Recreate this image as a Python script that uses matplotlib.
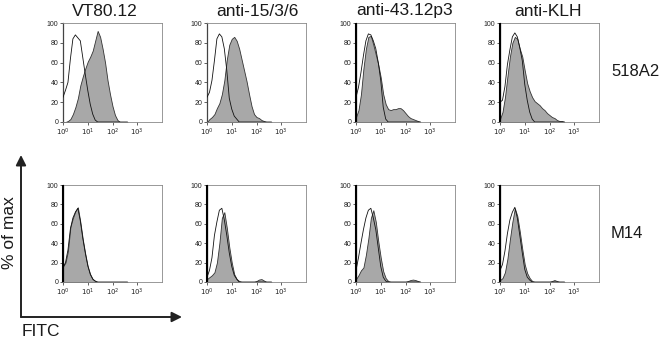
import numpy as np
import matplotlib
matplotlib.use("Agg")
import matplotlib.pyplot as plt
from matplotlib.patches import FancyArrowPatch

plt.rcParams['font.family'] = ['Liberation Sans', 'DejaVu Sans']

# --- data ---
# channel positions in decades of FITC intensity (10**x)
LOG_X = [0.0, 0.1, 0.2, 0.3, 0.4, 0.5, 0.6, 0.7, 0.8, 0.9, 1.0, 1.1, 1.2,
         1.3, 1.4, 1.5, 1.6, 1.7, 1.8, 1.9, 2.0, 2.1, 2.2, 2.3, 2.4, 2.5, 2.6]

antibodies = ["VT80.12", "anti-15/3/6", "anti-43.12p3", "anti-KLH"]
cell_lines = ["518A2", "M14"]

# stained (filled) histograms, % of max
filled_518A2 = [
    [0, 0, 1, 3, 8, 15, 24, 37, 46, 54, 61, 66, 72, 82, 92, 86, 74, 60, 42, 28, 16, 7, 2, 0, 0, 0, 0],
    [0, 3, 5, 8, 14, 19, 28, 42, 63, 78, 84, 86, 82, 74, 63, 52, 41, 28, 16, 8, 5, 4, 2, 1, 0, 0, 0],
    [5, 12, 28, 54, 74, 86, 87, 78, 68, 58, 45, 28, 18, 13, 12, 13, 13, 14, 14, 12, 9, 6, 4, 3, 2, 1, 0],
    [3, 10, 25, 46, 66, 80, 86, 84, 74, 66, 52, 39, 31, 25, 21, 19, 17, 14, 12, 9, 7, 5, 4, 2, 1, 1, 0],
]
filled_M14 = [
    [16, 20, 32, 57, 66, 73, 77, 62, 44, 29, 16, 8, 3, 1, 0, 0, 0, 0, 0, 0, 0, 0, 0, 0, 0, 0, 0],
    [3, 5, 7, 10, 20, 40, 66, 72, 56, 36, 20, 8, 3, 1, 0, 0, 0, 0, 0, 0, 1, 2.5, 3, 1.5, 0, 0, 0],
    [3, 7, 12, 15, 28, 45, 66, 74, 62, 42, 25, 11, 4, 1, 0, 0, 0, 0, 0, 0, 0, 1, 2, 2.5, 2, 1, 0],
    [2, 4, 10, 24, 44, 62, 76, 68, 52, 34, 18, 9, 4, 1, 0, 0, 0, 0, 0, 0, 0, 1, 2, 1, 0, 0, 0],
]
# isotype control (open) histograms
open_518A2 = [
    [25, 32, 40, 64, 84, 88, 85, 82, 65, 48, 32, 18, 8, 2, 0, 0, 0, 0, 0, 0, 0, 0, 0, 0, 0, 0, 0],
    [25, 30, 42, 62, 84, 89, 86, 74, 52, 24, 13, 6, 3, 0, 0, 0, 0, 0, 0, 0, 0, 0, 0, 0, 0, 0, 0],
    [25, 35, 50, 67, 82, 89, 88, 82, 74, 60, 42, 15, 3, 0, 0, 0, 0, 0, 0, 0, 0, 0, 0, 0, 0, 0, 0],
    [20, 22, 36, 58, 73, 86, 90, 86, 75, 62, 38, 22, 10, 3, 0, 0, 0, 0, 0, 0, 0, 0, 0, 0, 0, 0, 0],
]
open_M14 = [
    [15, 20, 33, 55, 66, 72, 76, 63, 45, 30, 17, 8, 3, 1, 0, 0, 0, 0, 0, 0, 0, 0, 0, 0, 0, 0, 0],
    [5, 12, 25, 48, 62, 74, 76, 64, 48, 30, 16, 7, 3, 0, 0, 0, 0, 0, 0, 0, 0, 0, 0, 0, 0, 0, 0],
    [12, 25, 40, 54, 66, 74, 76, 66, 54, 35, 16, 5, 1, 0, 0, 0, 0, 0, 0, 0, 0, 0, 0, 0, 0, 0, 0],
    [12, 18, 32, 50, 64, 72, 77, 66, 48, 30, 13, 5, 2, 0, 0, 0, 0, 0, 0, 0, 0, 0, 0, 0, 0, 0, 0],
]
# pile-up in the first channel (% of max)
spike_518A2 = [0, 0, 100, 100]
spike_M14 = [100, 100, 100, 100]

W, H = 661, 340
fig = plt.figure(figsize=(W / 100, H / 100), dpi=100)

def px_axes(left, top, width, height):
    return fig.add_axes([left / W, (H - top - height) / H, width / W, height / H])

lefts = [63, 207, 356, 500]
rows = [(23, 99, filled_518A2, open_518A2, spike_518A2),
        (185, 97, filled_M14, open_M14, spike_M14)]
x = 10 ** np.array(LOG_X)

for top, height, filled, opened, spikes in rows:
    for i, left in enumerate(lefts):
        ax = px_axes(left, top, 99, height)
        ax.set_xscale('log')
        ax.fill_between(x, filled[i], color='#a8a8a8', edgecolor='#333333', lw=0.6, zorder=2)
        ax.plot(x, opened[i], color='#111111', lw=0.6, zorder=3)
        if spikes[i]:
            ax.vlines(1.0, 0, spikes[i], color='black', lw=1.5, zorder=4, clip_on=False)
        ax.set_xlim(1, 1e4)
        ax.set_ylim(0, 100)
        ax.set_xticks([1, 10, 100, 1000])
        ax.set_xticklabels([r'$10^0$', r'$10^1$', r'$10^2$', r'$10^3$'])
        ax.minorticks_off()
        ax.set_yticks([0, 20, 40, 60, 80, 100])
        ax.tick_params(labelsize=5, length=2, width=0.5, pad=1.5, colors='#222222')
        for s in ax.spines.values():
            s.set_linewidth(0.6)
            s.set_color('#888888')
        ax.spines['left'].set_color('#444444')
        ax.spines['left'].set_linewidth(0.9)

# column titles and row labels
title_x = [105, 257, 405, 548]
for tx, name in zip(title_x, antibodies):
    fig.text(tx / W, 1 - 11 / H, name, ha='center', va='center', fontsize=12.5, color='#1a1a1a')
fig.text(611 / W, 1 - 71 / H, cell_lines[0], ha='left', va='center', fontsize=12, color='#1a1a1a')
fig.text(611 / W, 1 - 233 / H, cell_lines[1], ha='left', va='center', fontsize=12, color='#1a1a1a')

# big axis arrows
for start, end in [((21, 317), (21, 155)), ((21, 317), (182, 317))]:
    arr = FancyArrowPatch((start[0] / W, 1 - start[1] / H), (end[0] / W, 1 - end[1] / H),
                          transform=fig.transFigure, arrowstyle='-|>,head_length=4,head_width=2',
                          mutation_scale=1.5, lw=1.4, color='#222222', shrinkA=0, shrinkB=0)
    fig.add_artist(arr)
fig.text(10 / W, 1 - 233 / H, '% of max', rotation=90, ha='center', va='center', fontsize=12.5,
         color='#1a1a1a')
fig.text(22 / W, 1 - 331 / H, 'FITC', ha='left', va='center', fontsize=12.5, color='#1a1a1a')

fig.savefig('out.png', dpi=100)
